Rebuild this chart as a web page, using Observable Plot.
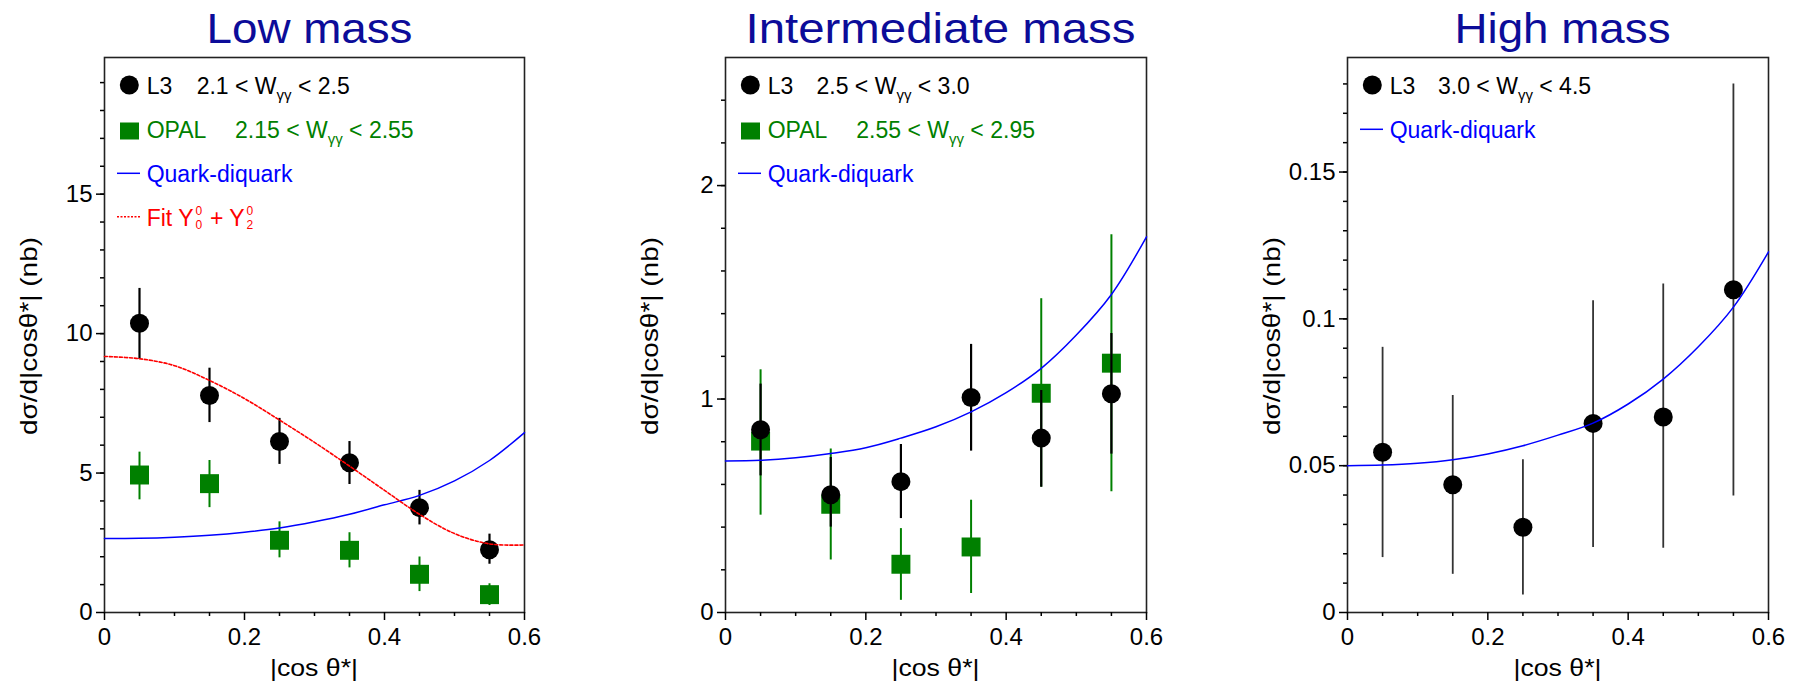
<!DOCTYPE html>
<html>
<head>
<meta charset="utf-8">
<script src="https://cdn.jsdelivr.net/npm/d3@7"></script>
<script src="https://cdn.jsdelivr.net/npm/@observablehq/plot@0.6"></script>
<style>
  html, body { margin: 0; padding: 0; background: #fff; }
  #wrap { position: relative; width: 1801px; height: 682px; overflow: hidden; background: #fff; }
  #wrap > svg { position: absolute; top: 0; }
</style>
</head>
<body>
<div id="wrap"></div>
<script>
// ---------------- data ----------------
const xBins = [0.05, 0.15, 0.25, 0.35, 0.45, 0.55];
const xCurve = [0, 0.05, 0.1, 0.15, 0.2, 0.25, 0.3, 0.35, 0.4, 0.45, 0.5, 0.55, 0.6];

// Low mass
const lowL3     = [10.37, 7.78, 6.13, 5.37, 3.76, 2.25];
const lowL3Lo   = [9.07, 6.81, 5.31, 4.59, 3.14, 1.73];
const lowL3Hi   = [11.62, 8.76, 6.96, 6.13, 4.38, 2.81];
const lowOPAL   = [4.93, 4.62, 2.59, 2.23, 1.37, 0.64];
const lowOPALLo = [4.04, 3.76, 1.96, 1.60, 0.75, 0.25];
const lowOPALHi = [5.75, 5.45, 3.25, 2.86, 1.99, 1.03];
const lowQD     = [2.65, 2.66, 2.70, 2.77, 2.88, 3.03, 3.25, 3.52, 3.86, 4.20, 4.72, 5.45, 6.45];
const lowFit    = [9.18, 9.10, 8.85, 8.32, 7.67, 6.90, 6.10, 5.25, 4.38, 3.52, 2.83, 2.46, 2.42];

// Intermediate mass
const midL3     = [0.856, 0.552, 0.613, 1.007, 0.817, 1.025];
const midL3Lo   = [0.64, 0.40, 0.44, 0.756, 0.587, 0.742];
const midL3Hi   = [1.07, 0.726, 0.787, 1.256, 1.04, 1.307];
const midOPAL   = [0.803, 0.507, 0.226, 0.307, 1.027, 1.168];
const midOPALLo = [0.456, 0.246, 0.057, 0.089, 0.587, 0.566];
const midOPALHi = [1.137, 0.766, 0.393, 0.526, 1.47, 1.77];
const midQD     = [0.71, 0.713, 0.725, 0.745, 0.772, 0.817, 0.87, 0.94, 1.03, 1.144, 1.30, 1.49, 1.76];

// High mass
const highL3    = [0.0546, 0.0435, 0.0290, 0.0644, 0.0666, 0.1099];
const highL3Lo  = [0.0187, 0.0130, 0.0060, 0.0221, 0.0219, 0.0397];
const highL3Hi  = [0.0903, 0.0739, 0.0520, 0.1062, 0.1119, 0.180];
const highQD    = [0.0500, 0.0502, 0.0508, 0.0520, 0.0540, 0.0568, 0.0604, 0.0645, 0.071, 0.0795, 0.0905, 0.104, 0.1228];

// ticks and labels
const xMajor = [0, 0.2, 0.4, 0.6];
const xMinor = [0.05, 0.1, 0.15, 0.25, 0.3, 0.35, 0.45, 0.5, 0.55];
const lowYMajor = [0, 5, 10, 15];
const lowYMinor = d3.range(1, 20, 1);
const midYMajor = [0, 1, 2];
const midYMinor = d3.range(0.2, 2.6, 0.2);
const highYMajor = [0, 0.05, 0.1, 0.15];
const highYMinor = d3.range(0.01, 0.189, 0.01);
const titles = ["Low mass", "Intermediate mass", "High mass"];
const xLabel = "|cos θ*|";
const yLabel = "dσ/d|cosθ*| (nb)";

// ---------------- style ----------------
const FONT = "'Liberation Sans', Arial, Helvetica, sans-serif";
const C_L3 = "#000000", C_OPAL = "#008000", C_QD = "#0000ff", C_FIT = "#ff0000", C_TITLE = "#0c0c99";
const fmt = d => String(+(+d).toFixed(3));

function pts(ys, lo, hi) { return xBins.map((x, i) => ({x, y: ys[i], lo: lo[i], hi: hi[i]})); }
function crv(ys) { return xCurve.map((x, i) => ({x, y: ys[i]})); }

function label(g, o) {
  const t = g.append("text")
    .attr("x", o.x).attr("y", o.y)
    .attr("font-size", o.size).attr("fill", o.color || "#000")
    .attr("text-anchor", "middle").style("text-anchor", "middle")
    .attr("textLength", o.len).attr("lengthAdjust", "spacingAndGlyphs")
    .text(o.text);
  if (o.rotate) t.attr("transform", `rotate(-90,${o.x},${o.y})`);
  return t;
}

function panel(o) {
  const marks = [
    Plot.frame({stroke: "#222", strokeWidth: 1.6}),
    Plot.axisX({ticks: xMajor, tickSize: 8, tickPadding: 7, tickFormat: fmt, label: null, fontSize: 24, strokeWidth: 1.5}),
    Plot.axisX({ticks: xMinor, tickSize: 4, tickFormat: () => "", label: null, strokeWidth: 1.5}),
    Plot.axisY({ticks: o.yMajor, tickSize: 8, tickPadding: 4, tickFormat: fmt, label: null, fontSize: 24, strokeWidth: 1.5}),
    Plot.axisY({ticks: o.yMinor, tickSize: 4, tickFormat: () => "", label: null, strokeWidth: 1.5})
  ];
  if (o.opal) {
    marks.push(Plot.ruleX(o.opal, {x: "x", y1: "lo", y2: "hi", stroke: C_OPAL, strokeWidth: 2}));
    marks.push(Plot.dot(o.opal, {x: "x", y: "y", symbol: "square", r: 10.7, fill: C_OPAL, stroke: "none"}));
  }
  marks.push(Plot.ruleX(o.l3, {x: "x", y1: "lo", y2: "hi", stroke: o.l3Stroke || C_L3, strokeWidth: o.l3Width || 2.2}));
  marks.push(Plot.dot(o.l3, {x: "x", y: "y", r: 9.5, fill: C_L3, stroke: "none"}));
  marks.push(Plot.line(o.qd, {x: "x", y: "y", stroke: C_QD, strokeWidth: 1.5, curve: "catmull-rom"}));
  if (o.fit) marks.push(Plot.line(o.fit, {x: "x", y: "y", stroke: C_FIT, strokeWidth: 1.6, strokeDasharray: "3,2", curve: "catmull-rom"}));

  const svg = Plot.plot({
    width: o.W, height: 682,
    marginTop: 57, marginBottom: 70, marginLeft: o.L, marginRight: o.R,
    x: {domain: [0, 0.6]},
    y: {domain: o.yDomain},
    style: {fontFamily: FONT, fontSize: "24px", color: "#000", background: "transparent", overflow: "visible"},
    marks
  });
  svg.style.left = o.left + "px";

  const L = o.L;
  const frameCx = L + (o.W - L - o.R) / 2;

  // title and axis titles
  const gl = d3.select(svg).append("g").attr("font-family", FONT);
  label(gl, {x: o.titleX, y: 43, size: 43, color: C_TITLE, len: o.titleLen, text: o.title});
  label(gl, {x: frameCx, y: 676, size: 24, len: 88, text: xLabel});
  label(gl, {x: L - 67, y: 336, size: 24, len: 198, text: yLabel, rotate: true});

  // legend
  const g = d3.select(svg).append("g")
    .attr("font-family", FONT).attr("font-size", 23)
    .attr("text-anchor", "start").style("text-anchor", "start");
  const txt = (x, y, s, color, size) => g.append("text").attr("x", x).attr("y", y).attr("fill", color)
      .attr("font-size", size || 23).attr("text-anchor", "start").style("white-space", "pre").text(s);
  o.legend.forEach(it => {
    if (it.sym === "circle") g.append("circle").attr("cx", L + 25.3).attr("cy", it.cy).attr("r", 9.5).attr("fill", C_L3);
    if (it.sym === "square") g.append("rect").attr("x", L + 16).attr("y", it.cy - 8.5).attr("width", 19).attr("height", 17).attr("fill", C_OPAL);
    if (it.sym === "line") g.append("line").attr("x1", L + 13).attr("x2", L + 36).attr("y1", it.cy).attr("y2", it.cy).attr("stroke", C_QD).attr("stroke-width", 1.5);
    if (it.sym === "dash") g.append("line").attr("x1", L + 13).attr("x2", L + 36).attr("y1", it.cy).attr("y2", it.cy).attr("stroke", C_FIT).attr("stroke-width", 1.6).attr("stroke-dasharray", "2,1.5");
    if (it.kind === "range") {
      txt(L + 42.7, it.base, it.name, it.color);
      const t = g.append("text").attr("x", L + it.off).attr("y", it.base).attr("fill", it.color)
        .attr("text-anchor", "start").style("white-space", "pre");
      t.append("tspan").text(it.a + " < W");
      t.append("tspan").attr("font-size", 15).attr("dy", 6).text("γγ");
      t.append("tspan").attr("dy", -6).text(" < " + it.b);
    } else if (it.kind === "fit") {
      const B = it.base;
      txt(L + 42.7, B, "Fit Y", it.color);
      txt(L + 91.5, B - 10.5, "0", it.color, 12);
      txt(L + 91.5, B + 3.5, "0", it.color, 12);
      txt(L + 99.5, B, " + Y", it.color);
      txt(L + 142.5, B - 10.5, "0", it.color, 12);
      txt(L + 142.5, B + 3.5, "2", it.color, 12);
    } else {
      txt(L + 42.7, it.base, it.text, it.color);
    }
  });
  document.getElementById("wrap").appendChild(svg);
}

panel({
  left: 0, W: 600, L: 104, R: 76, title: titles[0], titleX: 309.5, titleLen: 206,
  yDomain: [0, 19.9], yMajor: lowYMajor, yMinor: lowYMinor,
  l3: pts(lowL3, lowL3Lo, lowL3Hi), opal: pts(lowOPAL, lowOPALLo, lowOPALHi),
  qd: crv(lowQD), fit: crv(lowFit),
  legend: [
    {sym: "circle", cy: 85, base: 94, color: C_L3, kind: "range", name: "L3", off: 92.7, a: "2.1", b: "2.5"},
    {sym: "square", cy: 131, base: 137.5, color: C_OPAL, kind: "range", name: "OPAL", off: 131, a: "2.15", b: "2.55"},
    {sym: "line", cy: 173.3, base: 181.7, color: C_QD, text: "Quark-diquark"},
    {sym: "dash", cy: 216.7, base: 225.7, color: C_FIT, kind: "fit"}
  ]
});

panel({
  left: 600, W: 600, L: 125, R: 54, title: titles[1], titleX: 340.5, titleLen: 390,
  yDomain: [0, 2.6], yMajor: midYMajor, yMinor: midYMinor,
  l3: pts(midL3, midL3Lo, midL3Hi), opal: pts(midOPAL, midOPALLo, midOPALHi),
  qd: crv(midQD),
  legend: [
    {sym: "circle", cy: 85, base: 94, color: C_L3, kind: "range", name: "L3", off: 91.5, a: "2.5", b: "3.0"},
    {sym: "square", cy: 131, base: 137.5, color: C_OPAL, kind: "range", name: "OPAL", off: 131.3, a: "2.55", b: "2.95"},
    {sym: "line", cy: 173.3, base: 181.7, color: C_QD, text: "Quark-diquark"}
  ]
});

panel({
  left: 1200, W: 601, L: 147, R: 33, title: titles[2], titleX: 362.5, titleLen: 216,
  yDomain: [0, 0.189], yMajor: highYMajor, yMinor: highYMinor,
  l3: pts(highL3, highL3Lo, highL3Hi), l3Stroke: "#333", l3Width: 1.8,
  qd: crv(highQD),
  legend: [
    {sym: "circle", cy: 85, base: 94, color: C_L3, kind: "range", name: "L3", off: 91, a: "3.0", b: "4.5"},
    {sym: "line", cy: 129.3, base: 137.5, color: C_QD, text: "Quark-diquark"}
  ]
});
</script>
</body>
</html>
